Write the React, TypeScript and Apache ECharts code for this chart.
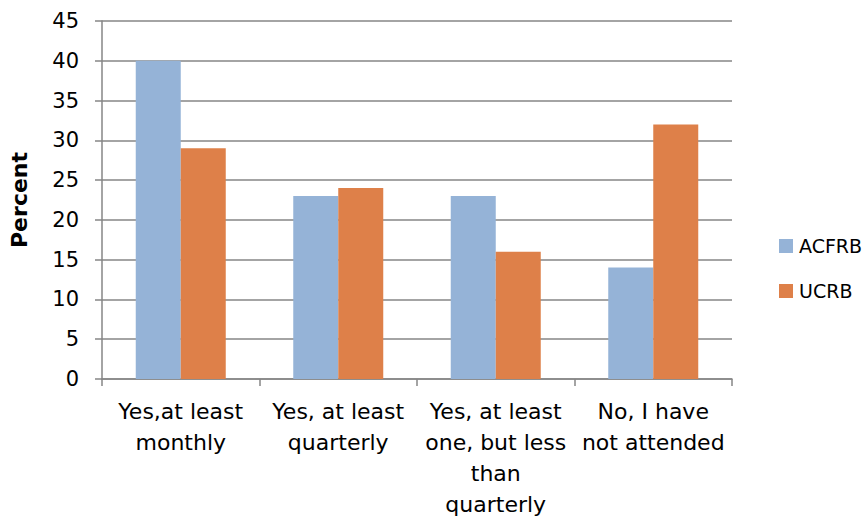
import React, { useEffect, useRef } from "react";
import * as echarts from "echarts";

const categories = [
  "Yes,at least\nmonthly",
  "Yes, at least\nquarterly",
  "Yes, at least\none, but less\nthan\nquarterly",
  "No, I have\nnot attended",
];
const acfrb = [40, 23, 23, 14];
const ucrb = [29, 24, 16, 32];
const seriesNames = ["ACFRB", "UCRB"];

const FONT = "'DejaVu Sans', sans-serif";

export default function App() {
  const ref = useRef<HTMLDivElement>(null);
  useEffect(() => {
    const chart = echarts.init(ref.current!, null, { renderer: "svg" });
    chart.setOption({
      animation: false,
      textStyle: { fontFamily: FONT },
      grid: { left: 98, right: 132, top: 21, bottom: 142, containLabel: false },
      legend: {
        orient: "vertical",
        left: 774,
        top: 229,
        itemWidth: 14,
        itemHeight: 14,
        itemGap: 21,
        icon: "rect",
        textStyle: { fontSize: 19, lineHeight: 24, color: "#000", fontFamily: FONT, padding: [0, 0, 0, 1] },
        data: seriesNames,
      },
      xAxis: {
        type: "category",
        data: categories,
        axisLine: { lineStyle: { color: "#868686", width: 1.5 } },
        axisTick: { show: true, length: 7, lineStyle: { color: "#868686", width: 1.5 } },
        axisLabel: { color: "#000", fontSize: 22, lineHeight: 31, margin: 17, interval: 0, fontFamily: FONT },
      },
      yAxis: {
        type: "value",
        min: 0,
        max: 45,
        interval: 5,
        name: "Percent",
        nameLocation: "middle",
        nameGap: 72,
        nameTextStyle: { fontSize: 22, fontWeight: "bold", color: "#000", fontFamily: FONT },
        axisLine: { show: true, lineStyle: { color: "#868686", width: 1.5 } },
        axisTick: { show: true, length: 7, lineStyle: { color: "#868686", width: 1.5 } },
        splitLine: { lineStyle: { color: "#868686", width: 1.5 } },
        axisLabel: { color: "#000", fontSize: 21, margin: 23, fontFamily: FONT },
      },
      series: [
        {
          name: seriesNames[0],
          type: "bar",
          data: acfrb,
          barWidth: 45,
          barGap: "0%",
          itemStyle: { color: "#95B3D7" },
        },
        {
          name: seriesNames[1],
          type: "bar",
          data: ucrb,
          barWidth: 45,
          barGap: "0%",
          itemStyle: { color: "#DE8049" },
        },
      ],
    });
    return () => chart.dispose();
  }, []);
  return (
    <div
      ref={ref}
      style={{ position: "absolute", left: 0, top: 0, width: 864, height: 521 }}
    />
  );
}
